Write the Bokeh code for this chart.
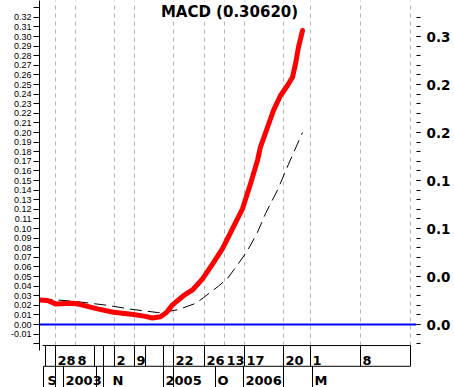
from bokeh.plotting import figure
from bokeh.models import Range1d, FixedTicker, LinearAxis, Span
from bokeh.core.properties import value
from bokeh.embed import file_html
from bokeh.resources import INLINE

# ---------------- data ----------------
macd_bar = [0, 7, 15, 25, 33, 40, 57, 73, 93, 105, 112, 120, 126, 132, 143, 152,
            162, 172, 182, 192, 202, 210, 217, 220, 227, 233, 240, 247, 252, 255, 258, 262]
macd_val = [0.0255, 0.0250, 0.0215, 0.0218, 0.0222, 0.0208, 0.0163, 0.0128, 0.0104, 0.0085,
            0.0068, 0.0080, 0.0125, 0.0205, 0.0300, 0.0360, 0.0476, 0.0630, 0.0790, 0.1000,
            0.1205, 0.1466, 0.1710, 0.1850, 0.2055, 0.2230, 0.2385, 0.2490, 0.2576, 0.2715,
            0.2889, 0.3062]
signal_bar = [0, 35, 67, 90, 117, 125, 138, 155, 163, 178, 187, 198, 207, 217, 225, 237, 248, 262]
signal_val = [0.0270, 0.0240, 0.0200, 0.0160, 0.0125, 0.0130, 0.0156, 0.0220, 0.0280, 0.0400,
              0.0480, 0.0635, 0.0770, 0.0960, 0.1156, 0.1400, 0.1670, 0.2000]
last_macd = 0.30620

grid_bars = [15, 35, 74, 94, 133, 164, 184, 204, 243, 270, 320, 370]
top_label_bars = [15, 35, 74, 94, 133, 164, 184, 204, 243, 270, 320]
top_labels = ["28", "8", "2", "9", "22", "26", "13", "17", "20", "1", "8"]
top_sep_bars = [5, 15, 54, 63, 74, 94, 105, 123, 133, 164, 204, 243, 270, 320, 370]
bottom_label_bars = [5, 23, 70, 123, 175, 203, 272]
bottom_labels = ["S", "2003", "N", "2005", "O", "2006", "M"]
bottom_sep_bars = [3, 15, 23, 56, 63, 123, 133, 175, 203, 243, 272]

left_ticks = [round(-0.02 + 0.01 * i, 2) for i in range(36)]
left_labels = [" " if t in (-0.02, 0.33) else f"{t:.2f}" for t in left_ticks]
right_major = [0.0, 0.05, 0.1, 0.15, 0.2, 0.25, 0.3]
right_labels = ["0.0", "0.0", "0.1", "0.1", "0.2", "0.2", "0.3"]
right_minor = [round(-0.02 + 0.01 * i, 2) for i in range(35)]

# ---------------- layout constants ----------------
Y_TOP = 0.3375
Y_BOT = -0.0656
ROW_TOP = -0.0219
ROW_MID = -0.0435
UPPER_BASE = -0.0378
LOWER_BASE = -0.0585
X_START = -1
X_END = 376

BOLD = value("DejaVu Sans")

p = figure(width=454, height=387, x_range=Range1d(X_START, X_END), y_range=Range1d(Y_BOT, Y_TOP),
           x_axis_type=None, output_backend="svg", toolbar_location=None,
           min_border_left=39, min_border_right=38, min_border_top=0, min_border_bottom=0,
           background_fill_color="white", border_fill_color="white", outline_line_color=None)
p.ygrid.visible = False

# left axis
ly = p.yaxis[0]
ly.ticker = FixedTicker(ticks=left_ticks, minor_ticks=[])
ly.major_label_overrides = dict(zip(left_ticks, left_labels))
ly.bounds = (-0.027, 0.34)
ly.major_tick_in = 0
ly.major_tick_out = 6
ly.major_label_standoff = 2
ly.major_label_text_font = "Liberation Sans"
ly.major_label_text_font_size = "9px"
ly.major_label_text_color = "black"
ly.axis_line_color = "black"
ly.major_tick_line_color = "black"

# right axis
ra = LinearAxis(ticker=FixedTicker(ticks=right_major, minor_ticks=right_minor),
                major_label_overrides=dict(zip(right_major, right_labels)),
                axis_line_color=None, major_tick_in=0, major_tick_out=4,
                minor_tick_in=0, minor_tick_out=4, major_label_standoff=6,
                major_label_text_font="DejaVu Sans", major_label_text_font_style="bold",
                major_label_text_font_size="13.5px", major_label_text_color="black",
                bounds=(-0.025, 0.325))
p.add_layout(ra, "right")

# vertical dashed grid
p.segment(x0=grid_bars, y0=ROW_TOP, x1=grid_bars, y1=Y_TOP,
          line_color="#b4b4b4", line_width=1, line_dash="4 4")

# zero line
p.add_layout(Span(location=0, dimension="width", line_color="#0000ff", line_width=2))

# series
p.line(signal_bar, signal_val, line_color="black", line_width=1, line_dash="12 6")
p.line(macd_bar, macd_val, line_color="#ff0000", line_width=5, line_cap="round", line_join="round")

# title
p.text(x=[189], y=[Y_TOP - 0.0022], text=[f"MACD ({last_macd:.5f})"], text_font=BOLD,
       text_font_style="bold", text_font_size="15px", text_align="center",
       text_baseline="top", text_color="black")

# date rows
p.segment(x0=[2, 3], y0=[ROW_TOP, ROW_MID], x1=[370, 370], y1=[ROW_TOP, ROW_MID],
          line_color="black", line_width=1)
p.segment(x0=top_sep_bars, y0=ROW_TOP, x1=top_sep_bars, y1=ROW_MID,
          line_color="black", line_width=1)
p.segment(x0=bottom_sep_bars, y0=ROW_MID, x1=bottom_sep_bars, y1=Y_BOT,
          line_color="black", line_width=1)
p.text(x=top_label_bars, y=UPPER_BASE, text=top_labels, x_offset=2, text_font=BOLD,
       text_font_style="bold", text_font_size="13px", text_align="left",
       text_baseline="alphabetic", text_color="black")
p.text(x=bottom_label_bars, y=LOWER_BASE, text=bottom_labels, x_offset=2, text_font=BOLD,
       text_font_style="bold", text_font_size="13px", text_align="left",
       text_baseline="alphabetic", text_color="black")

open("out.html", "w").write(file_html(p, INLINE))
